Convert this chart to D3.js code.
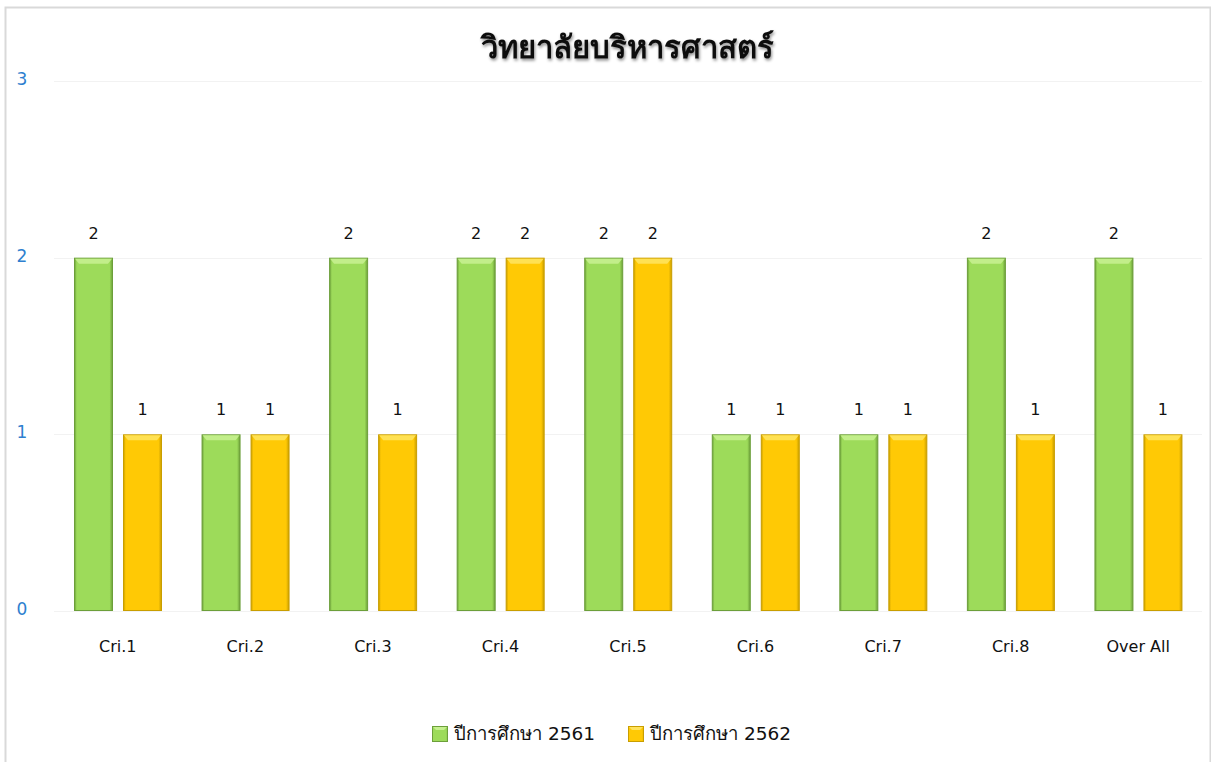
<!DOCTYPE html>
<html><head><meta charset="utf-8">
<script src="https://cdn.jsdelivr.net/npm/d3@7"></script>
<style>
body{margin:0;background:#fff;}
svg{display:block;font-family:"DejaVu Sans",sans-serif;}
</style></head>
<body><svg id="c" width="1211" height="762"></svg>
<script>
const categories = ["Cri.1","Cri.2","Cri.3","Cri.4","Cri.5","Cri.6","Cri.7","Cri.8","Over All"];
const seriesNames = ["ปีการศึกษา 2561","ปีการศึกษา 2562"];
const values2561 = [2,1,2,2,2,1,1,2,2];
const values2562 = [1,1,1,2,2,1,1,1,1];
const yTicks = [0,1,2,3];
const title = "วิทยาลัยบริหารศาสตร์";

const svg = d3.select("#c");
const defs = svg.append("defs");
const colors = [{fill:"#9ddb5a",light:"#c6f08f",dark:"#6c9f3a",id:"g"},{fill:"#ffc905",light:"#ffe35c",dark:"#c99e00",id:"y"}];
colors.forEach(c=>{
  const lg = defs.append("linearGradient").attr("id","grad"+c.id).attr("x1",0).attr("x2",1).attr("y1",0).attr("y2",0);
  lg.append("stop").attr("offset","0%").attr("stop-color",c.dark);
  lg.append("stop").attr("offset","6%").attr("stop-color",c.fill);
  lg.append("stop").attr("offset","92%").attr("stop-color",c.fill);
  lg.append("stop").attr("offset","100%").attr("stop-color",c.dark);
});
const f = defs.append("filter").attr("id","tshadow").attr("x","-10%").attr("y","-30%").attr("width","120%").attr("height","160%");
f.append("feDropShadow").attr("dx",1).attr("dy",2).attr("stdDeviation",1.5).attr("flood-color","#000").attr("flood-opacity",0.45);

// frame
svg.append("path").attr("d","M5.5,770 V7.5 H1210.5 V770").attr("fill","none").attr("stroke","#d9d9d9").attr("stroke-width",2);

const x0 = d3.scaleBand().domain(categories).range([54,1202]).paddingInner(0).paddingOuter(0);
const y = d3.scaleLinear().domain([0,3]).range([611,81]);
const groupPad = 20;
const barW = 39, gapW = 10;

// gridlines
svg.append("g").selectAll("line").data(yTicks).join("line")
  .attr("x1",54).attr("x2",1202).attr("y1",d=>Math.round(y(d))+0.5).attr("y2",d=>Math.round(y(d))+0.5)
  .attr("stroke","#f2f2f2").attr("stroke-width",1);

// y axis labels
const yAxis = d3.axisLeft(y).tickValues(yTicks).tickSize(0).tickPadding(0).tickFormat(d3.format("d"));
const ya = svg.append("g").attr("transform","translate(22,0)").call(yAxis);
ya.select(".domain").remove();
ya.attr("font-family",null).attr("font-size",null);
ya.selectAll("text").attr("fill","#2e7fcf").style("font-size","17px").attr("text-anchor","middle").attr("dy","0.2em");

const series = [values2561, values2562];
series.forEach((vals,si)=>{
  const c = colors[si];
  const g = svg.append("g");
  const bx = (d,i)=> x0(categories[i]) + groupPad + si*(barW+gapW);
  g.selectAll("rect.b").data(vals).join("rect").attr("class","b")
    .attr("x",(d,i)=>bx(d,i)+0.5).attr("y",d=>y(d)+0.5).attr("width",barW-1).attr("height",d=>y(0)-y(d)-1)
    .attr("fill","url(#grad"+c.id+")").attr("stroke",c.dark).attr("stroke-width",1);
  // top bevel
  g.selectAll("path.t").data(vals).join("path").attr("class","t")
    .attr("d",(d,i)=>{const X=bx(d,i)+1, Y=y(d)+1, W=barW-2; return `M${X},${Y} H${X+W} L${X+W-4},${Y+5} H${X+4} Z`;})
    .attr("fill",c.light).attr("opacity",0.9);
  g.selectAll("text").data(vals).join("text")
    .attr("x",(d,i)=>bx(d,i)+barW/2).attr("y",d=>y(d)-19)
    .attr("text-anchor","middle").attr("font-size",16).attr("fill","#111").text(d=>d);
});

// x axis labels
const xAxis = d3.axisBottom(x0).tickSize(0).tickPadding(0);
const xa = svg.append("g").attr("transform","translate(0,641)").call(xAxis);
xa.select(".domain").remove();
xa.attr("font-family",null).attr("font-size",null);
xa.selectAll("text").attr("font-size",16).attr("fill","#111");

// title
svg.append("text").attr("x",627).attr("y",58).attr("text-anchor","middle")
  .attr("font-size",31).attr("font-weight","bold").attr("fill","#111").attr("filter","url(#tshadow)").text(title);

// legend
const legX = [432, 628];
seriesNames.forEach((n,i)=>{
  const c = colors[i];
  const g = svg.append("g").attr("transform",`translate(${legX[i]},726)`);
  g.append("rect").attr("x",0.5).attr("y",0.5).attr("width",15).attr("height",15).attr("fill","url(#grad"+c.id+")").attr("stroke",c.dark);
  g.append("path").attr("d","M1,1 H15 L12,4 H4 Z").attr("fill",c.light);
  g.append("text").attr("x",22).attr("y",14).attr("font-size",18.5).attr("fill","#111").text(n);
});
</script></body></html>
